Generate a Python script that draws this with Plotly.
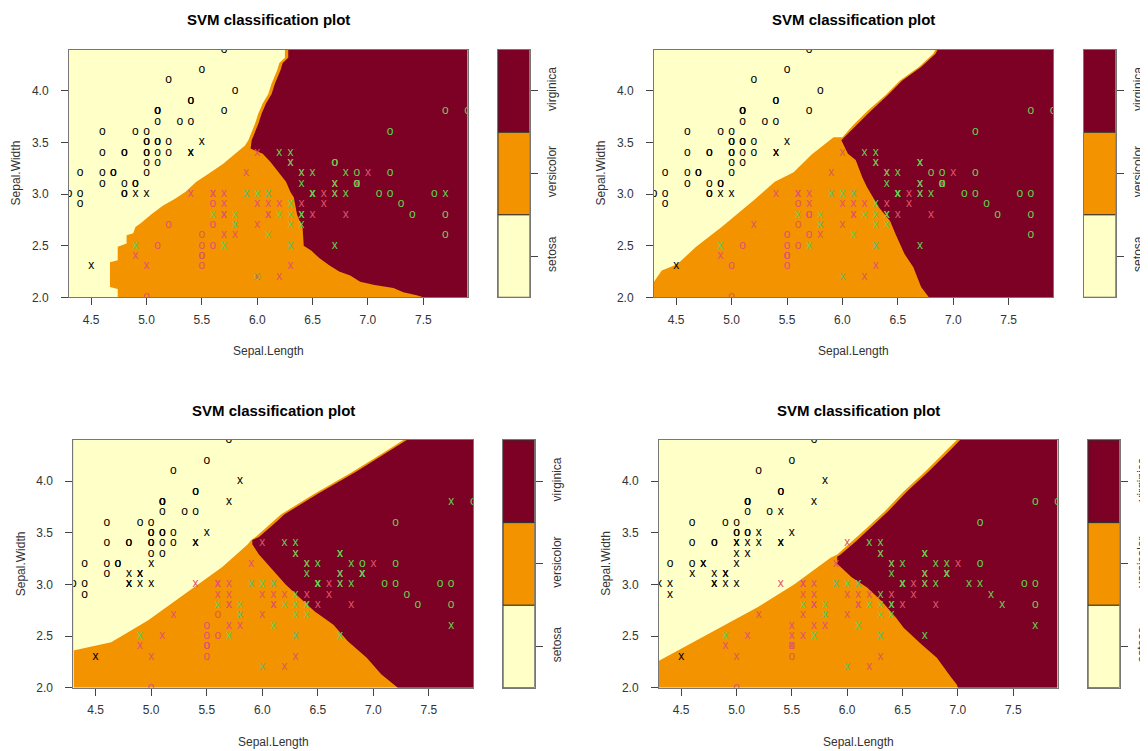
import plotly.graph_objects as go

# ---------------- data (iris: Sepal.Length / Sepal.Width) ----------------
sepal_length = [5.1,4.9,4.7,4.6,5.0,5.4,4.6,5.0,4.4,4.9,5.4,4.8,4.8,4.3,5.8,5.7,5.4,5.1,5.7,5.1,
                5.4,5.1,4.6,5.1,4.8,5.0,5.0,5.2,5.2,4.7,4.8,5.4,5.2,5.5,4.9,5.0,5.5,4.9,4.4,5.1,
                5.0,4.5,4.4,5.0,5.1,4.8,5.1,4.6,5.3,5.0,
                7.0,6.4,6.9,5.5,6.5,5.7,6.3,4.9,6.6,5.2,5.0,5.9,6.0,6.1,5.6,6.7,5.6,5.8,6.2,5.6,
                5.9,6.1,6.3,6.1,6.4,6.6,6.8,6.7,6.0,5.7,5.5,5.5,5.8,6.0,5.4,6.0,6.7,6.3,5.6,5.5,
                5.5,6.1,5.8,5.0,5.6,5.7,5.7,6.2,5.1,5.7,
                6.3,5.8,7.1,6.3,6.5,7.6,4.9,7.3,6.7,7.2,6.5,6.4,6.8,5.7,5.8,6.4,6.5,7.7,7.7,6.0,
                6.9,5.6,7.7,6.3,6.7,7.2,6.2,6.1,6.4,7.2,7.4,7.9,6.4,6.3,6.1,7.7,6.3,6.4,6.0,6.9,
                6.7,6.9,5.8,6.8,6.7,6.7,6.3,6.5,6.2,5.9]
sepal_width = [3.5,3.0,3.2,3.1,3.6,3.9,3.4,3.4,2.9,3.1,3.7,3.4,3.0,3.0,4.0,4.4,3.9,3.5,3.8,3.8,
               3.4,3.7,3.6,3.3,3.4,3.0,3.4,3.5,3.4,3.2,3.1,3.4,4.1,4.2,3.1,3.2,3.5,3.6,3.0,3.4,
               3.5,2.3,3.2,3.5,3.8,3.0,3.8,3.2,3.7,3.3,
               3.2,3.2,3.1,2.3,2.8,2.8,3.3,2.4,2.9,2.7,2.0,3.0,2.2,2.9,2.9,3.1,3.0,2.7,2.2,2.5,
               3.2,2.8,2.5,2.8,2.9,3.0,2.8,3.0,2.9,2.6,2.4,2.4,2.7,2.7,3.0,3.4,3.1,2.3,3.0,2.5,
               2.6,3.0,2.6,2.3,2.7,3.0,2.9,2.9,2.5,2.8,
               3.3,2.7,3.0,2.9,3.0,3.0,2.5,2.9,2.5,3.6,3.2,2.7,3.0,2.5,2.8,3.2,3.0,3.8,2.6,2.2,
               3.2,2.8,2.8,2.7,3.3,3.2,2.8,3.0,2.8,3.0,2.8,3.8,2.8,2.8,2.6,3.0,3.4,3.1,3.0,3.1,
               3.1,3.1,2.7,3.2,3.3,3.0,2.5,3.0,3.4,3.0]
species = ["setosa"] * 50 + ["versicolor"] * 50 + ["virginica"] * 50
class_levels = ["setosa", "versicolor", "virginica"]

# support vectors (1-based row numbers) drawn as "x", others drawn as "o"
sv_1 = [2,21,26,32,37,42,
        51,52,53,55,56,57,58,59,62,63,64,66,67,68,69,71,72,73,74,75,76,77,78,79,80,83,84,85,86,87,88,89,92,93,94,96,97,98,100,
        101,102,104,105,107,109,111,112,113,114,115,116,117,122,124,127,128,129,133,134,135,136,137,138,139,141,143,144,146,147,148,149,150]
sv_2 = [2,21,26,32,37,42,
        51,52,53,55,57,58,59,60,62,63,64,66,67,68,69,71,72,73,74,75,76,77,78,79,83,84,85,86,87,88,89,92,93,96,97,98,
        101,102,104,105,107,109,111,112,113,114,115,116,117,120,122,124,125,127,128,129,133,134,135,137,138,139,141,143,145,146,147,148,149,150]
sv_3 = [2,10,13,15,19,21,26,31,32,35,36,37,42,46,
        51,52,53,55,56,57,58,59,60,62,63,64,65,66,67,68,69,71,72,73,74,75,76,77,78,79,80,83,84,85,86,87,88,89,92,93,94,96,97,98,99,100,
        101,102,104,105,107,109,111,112,113,114,115,116,117,118,119,120,122,124,125,127,128,129,133,134,135,137,138,139,140,141,142,143,144,145,146,147,148,149,150]
sv_4 = [2,3,4,8,9,10,11,13,14,15,19,21,24,26,27,28,29,30,31,32,35,36,37,39,40,42,46,50,
        51,52,53,55,56,57,58,59,60,62,63,64,65,66,67,68,69,70,71,72,73,74,75,76,77,78,79,80,82,83,84,85,86,87,88,89,90,91,92,93,94,95,96,97,98,99,100,
        101,102,103,104,105,107,108,109,111,112,113,114,115,116,117,119,120,121,122,124,125,127,128,129,130,131,133,134,135,137,138,139,140,141,142,143,144,145,146,147,148,149,150]

# decision-region boundaries
setosa_bx_1 = [4.74,4.74,4.67,4.67,4.74,4.74,4.82,4.82,4.88,4.90,4.95,5.05,5.15,5.25,5.35,5.45,5.55,5.69,5.79,5.89,5.92,5.95,5.98,6.01,6.05,6.10,6.13,6.18,6.20,6.25,6.25]
setosa_by_1 = [2.00,2.08,2.10,2.34,2.36,2.49,2.52,2.60,2.62,2.68,2.72,2.81,2.89,2.95,3.02,3.12,3.19,3.29,3.38,3.47,3.52,3.60,3.68,3.78,3.88,3.97,4.07,4.20,4.27,4.32,4.40]
virginica_bx_1 = [6.28,6.28,6.23,6.21,6.16,6.13,6.08,6.04,6.01,5.98,5.95,5.94,6.00,6.05,6.12,6.20,6.26,6.30,6.33,6.36,6.41,6.42,6.49,6.56,6.65,6.74,6.84,6.93,7.06,7.23,7.32,7.44,7.50]
virginica_by_1 = [4.40,4.32,4.27,4.20,4.07,3.97,3.88,3.78,3.68,3.60,3.52,3.44,3.41,3.39,3.31,3.20,3.12,3.02,2.97,2.80,2.67,2.50,2.45,2.38,2.31,2.25,2.21,2.15,2.12,2.09,2.05,2.02,2.00]

setosa_bx_2 = [4.30,4.37,4.51,4.68,4.91,5.00,5.20,5.39,5.56,5.72,5.92,6.00,6.10,6.23,6.39,6.52,6.69,6.82,6.84]
setosa_by_2 = [2.15,2.26,2.32,2.49,2.68,2.76,2.94,3.12,3.21,3.38,3.55,3.55,3.67,3.81,3.96,4.10,4.23,4.36,4.40]
virginica_bx_2 = [6.86,6.84,6.71,6.54,6.41,6.26,6.13,6.03,5.99,6.05,6.12,6.18,6.22,6.33,6.43,6.48,6.56,6.64,6.71,6.78]
virginica_by_2 = [4.40,4.36,4.23,4.10,3.96,3.81,3.67,3.56,3.52,3.39,3.33,3.16,3.07,2.87,2.74,2.61,2.42,2.29,2.10,2.00]

setosa_bx_3 = [4.30,4.64,4.97,5.31,5.64,5.87,5.90,5.94,6.11,6.17,6.47,6.81,7.14,7.27]
setosa_by_3 = [2.36,2.44,2.65,2.91,3.17,3.39,3.43,3.46,3.62,3.68,3.88,4.09,4.31,4.40]
virginica_bx_3 = [7.30,7.17,6.84,6.50,6.20,6.14,5.97,5.91,5.91,5.97,6.07,6.21,6.34,6.47,6.64,6.77,6.94,7.07,7.22]
virginica_by_3 = [4.40,4.31,4.09,3.88,3.68,3.62,3.46,3.43,3.39,3.29,3.17,3.00,2.87,2.74,2.61,2.45,2.29,2.13,2.00]

setosa_bx_4 = [4.30,4.79,5.19,5.52,5.85,5.91,6.05,6.18,6.34,6.51,6.71,6.90,6.99]
setosa_by_4 = [2.26,2.55,2.78,3.00,3.26,3.29,3.42,3.55,3.71,3.90,4.10,4.30,4.40]
virginica_bx_4 = [7.02,6.93,6.74,6.54,6.37,6.21,6.08,5.94,5.91,5.91,6.04,6.18,6.31,6.44,6.51,6.67,6.81,6.94,6.99,7.00]
virginica_by_4 = [4.40,4.30,4.10,3.90,3.71,3.55,3.42,3.29,3.27,3.20,3.07,2.97,2.84,2.68,2.58,2.42,2.29,2.10,2.03,2.00]

x_range = [4.3, 7.9]
y_range = [2.0, 4.4]
x_ticks = [4.5, 5.0, 5.5, 6.0, 6.5, 7.0, 7.5]
y_ticks = [2.0, 2.5, 3.0, 3.5, 4.0]

# ---------------- styling ----------------
PAGE_OFFSET = 8          # default page margin in front of the figure
W, H = 1148 - PAGE_OFFSET, 751 - PAGE_OFFSET
FONT = "Liberation Sans, Arial, Helvetica, sans-serif"
region_colors = {"setosa": "#FFFFC8", "versicolor": "#F39300", "virginica": "#7D0025"}
point_colors = {"setosa": "#000000", "versicolor": "#DF536B", "virginica": "#61D04F"}

# positions below are in window pixels
panels = [
    dict(px=(69, 467.6), py=(49.5, 297.3), key=(498, 529.5),
         sbx=setosa_bx_1, sby=setosa_by_1, vbx=virginica_bx_1, vby=virginica_by_1, sv=sv_1),
    dict(px=(654, 1053), py=(49.5, 297.3), key=(1083.5, 1115.5),
         sbx=setosa_bx_2, sby=setosa_by_2, vbx=virginica_bx_2, vby=virginica_by_2, sv=sv_2),
    dict(px=(73.4, 473.4), py=(440, 687.7), key=(503, 534.6),
         sbx=setosa_bx_3, sby=setosa_by_3, vbx=virginica_bx_3, vby=virginica_by_3, sv=sv_3),
    dict(px=(659, 1057.5), py=(440, 687.7), key=(1088, 1119.5),
         sbx=setosa_bx_4, sby=setosa_by_4, vbx=virginica_bx_4, vby=virginica_by_4, sv=sv_4),
]


def fx(p):
    return (p - PAGE_OFFSET) / W


def fy(p):
    return 1 - (p - PAGE_OFFSET) / H


fig = go.Figure()
layout = dict(
    width=W, height=H, margin=dict(l=0, r=0, t=0, b=0, autoexpand=False),
    paper_bgcolor="white", plot_bgcolor="rgba(0,0,0,0)",
    showlegend=False, font=dict(family=FONT, size=12, color="#222"),
    annotations=[],
)

for i, p in enumerate(panels):
    ax = 2 * i + 1
    kx = 2 * i + 2
    xa = "x" if ax == 1 else f"x{ax}"
    ya = "y" if ax == 1 else f"y{ax}"
    xk, yk = f"x{kx}", f"y{kx}"

    # regions
    fig.add_trace(go.Scatter(
        x=[x_range[0], x_range[1], x_range[1], x_range[0]],
        y=[y_range[0], y_range[0], y_range[1], y_range[1]],
        fill="toself", fillcolor=region_colors["versicolor"], mode="lines",
        line=dict(width=0), hoverinfo="skip", xaxis=xa, yaxis=ya))
    fig.add_trace(go.Scatter(
        x=p["sbx"] + [x_range[0], x_range[0]], y=p["sby"] + [y_range[1], y_range[0]],
        fill="toself", fillcolor=region_colors["setosa"], mode="lines",
        line=dict(width=0), hoverinfo="skip", xaxis=xa, yaxis=ya))
    fig.add_trace(go.Scatter(
        x=p["vbx"] + [x_range[1], x_range[1]], y=p["vby"] + [y_range[0], y_range[1]],
        fill="toself", fillcolor=region_colors["virginica"], mode="lines",
        line=dict(width=0), hoverinfo="skip", xaxis=xa, yaxis=ya))

    # data points: "x" = support vector, "o" = other
    sv_set = set(p["sv"])
    symbols = ["x" if (k + 1) in sv_set else "o" for k in range(len(sepal_length))]
    colors = [point_colors[s] for s in species]
    fig.add_trace(go.Scatter(
        x=sepal_length, y=sepal_width, mode="text", text=symbols,
        textposition="middle center",
        textfont=dict(family=FONT, size=12, color=colors),
        hoverinfo="skip", cliponaxis=True, xaxis=xa, yaxis=ya))

    # colour key
    fig.add_trace(go.Bar(
        x=[0, 0, 0], y=[1, 1, 1], base=[0, 1, 2], width=1,
        marker=dict(color=[region_colors[c] for c in class_levels],
                    line=dict(color="#333", width=1)),
        hoverinfo="skip", xaxis=xk, yaxis=yk))

    axis_common = dict(showgrid=False, zeroline=False, showline=True, mirror=True,
                       linecolor="#777", linewidth=1, ticks="outside", ticklen=7,
                       tickcolor="#444", tickwidth=1, automargin=False,
                       tickfont=dict(family=FONT, size=12, color="#333"))
    layout[f"xaxis{ax}"] = dict(
        domain=[fx(p["px"][0]), fx(p["px"][1])], range=x_range, anchor=ya,
        tickvals=x_ticks, ticktext=[f"{v:.1f}" for v in x_ticks],
        ticklabelstandoff=4, **axis_common)
    layout[f"yaxis{ax}"] = dict(
        domain=[fy(p["py"][1]), fy(p["py"][0])], range=y_range, anchor=xa,
        tickvals=y_ticks, ticktext=[f"{v:.1f}" for v in y_ticks],
        ticklabelstandoff=10, **axis_common)
    layout[f"xaxis{kx}"] = dict(
        domain=[fx(p["key"][0]), fx(p["key"][1])], range=[-0.5, 0.5], anchor=yk,
        showgrid=False, zeroline=False, showticklabels=False, ticks="", automargin=False,
        showline=True, mirror=True, linecolor="#777")
    layout[f"yaxis{kx}"] = dict(
        domain=[fy(p["py"][1]), fy(p["py"][0])], range=[0, 3], anchor=xk, side="right",
        tickvals=[0.5, 1.5, 2.5], ticktext=class_levels, tickangle=-90,
        ticklabelstandoff=4, **axis_common)

    cx = (p["px"][0] + p["px"][1]) / 2
    cy = (p["py"][0] + p["py"][1]) / 2
    layout["annotations"] += [
        dict(text="<b>SVM classification plot</b>", x=fx(cx), y=fy(p["py"][0] - 30),
             xref="paper", yref="paper", showarrow=False, xanchor="center", yanchor="middle",
             font=dict(family=FONT, size=15, color="#000")),
        dict(text="Sepal.Length", x=fx(cx), y=fy(p["py"][1] + 54),
             xref="paper", yref="paper", showarrow=False, xanchor="center", yanchor="middle",
             font=dict(family=FONT, size=12, color="#333")),
        dict(text="Sepal.Width", x=fx(p["px"][0] - 53), y=fy(cy), textangle=-90,
             xref="paper", yref="paper", showarrow=False, xanchor="center", yanchor="middle",
             font=dict(family=FONT, size=12, color="#333")),
    ]

fig.update_layout(**layout)
fig.write_html("out.html")
